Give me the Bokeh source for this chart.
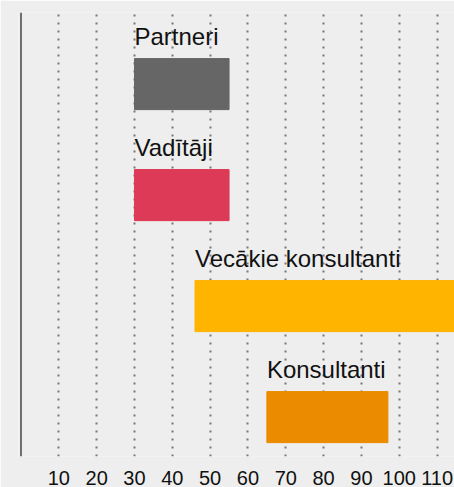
from bokeh.plotting import figure
from bokeh.models import ColumnDataSource, FixedTicker, Span, FactorRange, Range1d
from bokeh.transform import dodge
from bokeh.core.properties import value
from bokeh.embed import file_html
from bokeh.resources import INLINE

categories = ["Partneri", "Vadītāji", "Vecākie konsultanti", "Konsultanti"]
starts = [30, 30, 46, 65]
ends = [55, 55, 115, 97]
colors = ["#666666", "#dc3a56", "#ffb400", "#eb8b00"]
tick_values = [10, 20, 30, 40, 50, 60, 70, 80, 90, 100, 110]

src = ColumnDataSource(dict(cat=categories, start=starts, end=ends, color=colors))

p = figure(width=454, height=487, output_backend="svg", toolbar_location=None,
           y_range=FactorRange(factors=categories[::-1], range_padding=0),
           x_range=Range1d(-0.66, 114.6),
           min_border_left=18, min_border_right=0, min_border_top=12, min_border_bottom=0)
p.background_fill_color = "#eeeeee"
p.border_fill_color = "#eeeeee"
p.outline_line_color = None

p.hbar(y=dodge("cat", -0.145, range=p.y_range), left="start", right="end", height=0.46,
       color="color", source=src)
p.text(x="start", y=dodge("cat", 0.285, range=p.y_range), text="cat", source=src,
       text_font=value("Liberation Sans"), text_font_size="24px", text_color="#111111",
       text_baseline="alphabetic", text_align="left")

p.add_layout(Span(location=0, dimension="height", line_color="#6f6f6f", line_width=2))

p.yaxis.visible = False
p.ygrid.visible = False
p.xaxis.ticker = FixedTicker(ticks=tick_values)
p.xaxis.axis_line_color = None
p.xaxis.major_tick_line_color = None
p.xaxis.minor_tick_line_color = None
p.xaxis.major_tick_out = 0
p.xaxis.major_tick_in = 0
p.xaxis.major_label_standoff = 14
p.xaxis.major_label_text_font = "Liberation Sans"
p.xaxis.major_label_text_font_size = "20px"
p.xaxis.major_label_text_color = "#111111"
p.xgrid.ticker = FixedTicker(ticks=tick_values)
p.xgrid.grid_line_color = "#777777"
p.xgrid.grid_line_width = 2
p.xgrid.grid_line_dash = "2 6"

open("out.html", "w").write(file_html(p, INLINE))
